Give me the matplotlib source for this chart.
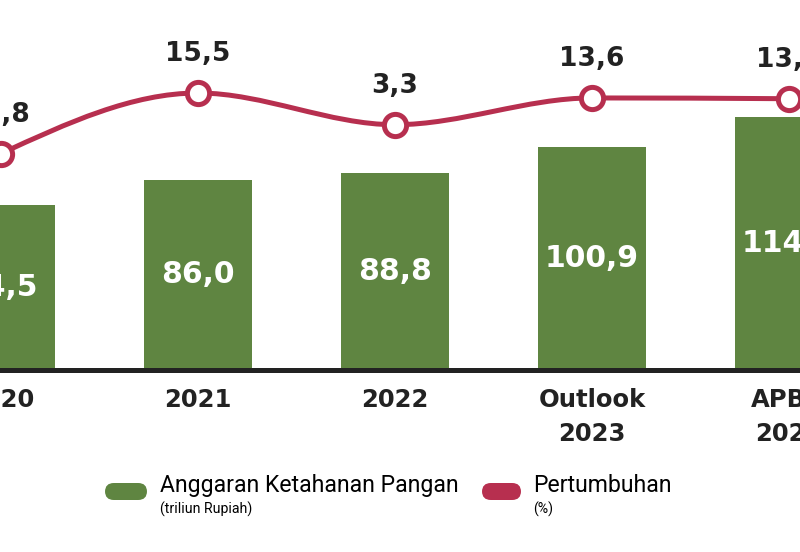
import numpy as np
import matplotlib
matplotlib.use("Agg")
import matplotlib.pyplot as plt
from matplotlib.path import Path
from matplotlib.patches import PathPatch, FancyBboxPatch
from matplotlib.transforms import blended_transform_factory

# ---- data ----
categories = ["2020", "2021", "2022", "Outlook\n2023", "APBN\n2024"]
budget = [74.5, 86.0, 88.8, 100.9, 114.3]
budget_labels = ["74,5", "86,0", "88,8", "100,9", "114,3"]
growth = [-7.8, 15.5, 3.3, 13.6, 13.3]
growth_labels = ["-7,8", "15,5", "3,3", "13,6", "13,3"]
legend_labels = ["Anggaran Ketahanan Pangan", "Pertumbuhan"]
legend_units = ["(triliun Rupiah)", "(%)"]

GREEN = "#5f8541"
RED = "#b72f4f"
DARK = "#222222"
BOLD = "DejaVu Sans"
LEG = "Roboto"

W, H = 800, 552
fig = plt.figure(figsize=(W / 100, H / 100), dpi=100)

def fy(py):
    return 1 - py / H

def fx(px):
    return px / W

base_px = 370
ax = fig.add_axes([0, fy(base_px), 1, base_px / H])
ax.set_xlim(-1 / 197, 799 / 197)
ax.set_ylim(0, base_px / 2.213)
ax.axis("off")

x = np.arange(len(categories))
ax.bar(x, budget, width=0.55, color=GREEN, zorder=2)
ax.axhline(0, color=DARK, lw=3.6, zorder=3, clip_on=False)

for xi, v, lbl in zip(x, budget, budget_labels):
    ax.text(xi, v / 2, lbl, ha="center", va="center", color="white",
            fontsize=21.5, fontweight="bold", family=BOLD, zorder=4)

# ---- growth line on twin axis ----
ax2 = ax.twinx()
ax2.set_ylim(15.5 - (base_px - 93) / 2.6, 15.5 + 93 / 2.6)
ax2.set_xlim(ax.get_xlim())
ax2.axis("off")

def monotone_path(xs, ys):
    xs = np.asarray(xs, float)
    ys = np.asarray(ys, float)
    n = len(xs)
    h = np.diff(xs)
    s = np.diff(ys) / h
    t = np.zeros(n)
    for i in range(1, n - 1):
        s0, s1 = s[i - 1], s[i]
        p = (s0 * h[i] + s1 * h[i - 1]) / (h[i - 1] + h[i])
        t[i] = (np.sign(s0) + np.sign(s1)) * min(abs(s0), abs(s1), 0.5 * abs(p))
    t[0] = (3 * s[0] - t[1]) / 2
    t[-1] = (3 * s[-1] - t[-2]) / 2
    verts = [(xs[0], ys[0])]
    codes = [Path.MOVETO]
    for i in range(n - 1):
        dx = h[i] / 3
        verts += [(xs[i] + dx, ys[i] + dx * t[i]),
                  (xs[i + 1] - dx, ys[i + 1] - dx * t[i + 1]),
                  (xs[i + 1], ys[i + 1])]
        codes += [Path.CURVE4] * 3
    return Path(verts, codes)

ax2.add_patch(PathPatch(monotone_path(x, growth), fill=False, edgecolor=RED,
                        lw=3.6, zorder=4, capstyle="round"))
ax2.plot(x, growth, "o", ms=16, mfc="white", mec=RED, mew=3.6, zorder=5,
         clip_on=False)
for xi, g, lbl in zip(x, growth, growth_labels):
    ax2.annotate(lbl, (xi, g), xytext=(0, 23), textcoords="offset points",
                 ha="center", va="baseline", fontsize=19, fontweight="bold",
                 family=BOLD, color=DARK, annotation_clip=False)

# ---- category labels ----
tr = blended_transform_factory(ax.transData, fig.transFigure)
for xi, cat in zip(x, categories):
    for k, line in enumerate(cat.split("\n")):
        ax.text(xi, fy(407 + 34 * k), line, transform=tr, ha="center",
                va="baseline", fontsize=17.5, fontweight="bold", family=BOLD,
                color=DARK, clip_on=False)

# ---- legend ----
def pill(x0, x1, y0, y1, color):
    p = FancyBboxPatch((fx(x0), fy(y1)), fx(x1) - fx(x0), fy(y0) - fy(y1),
                       boxstyle="round,pad=0,rounding_size=0.011",
                       transform=fig.transFigure, facecolor=color,
                       edgecolor="none", mutation_aspect=W / H)
    fig.add_artist(p)

pill(105, 147, 483, 500, GREEN)
pill(482, 521, 483, 500, RED)
for px, lbl, unit in zip([160, 533], legend_labels, legend_units):
    fig.text(fx(px), fy(492), lbl, ha="left", va="baseline", fontsize=16.6,
             family=LEG, color="black")
    fig.text(fx(px), fy(514), unit, ha="left", va="baseline", fontsize=10.2,
             family=LEG, color="black")

fig.savefig("out.png", dpi=100, facecolor="white")
